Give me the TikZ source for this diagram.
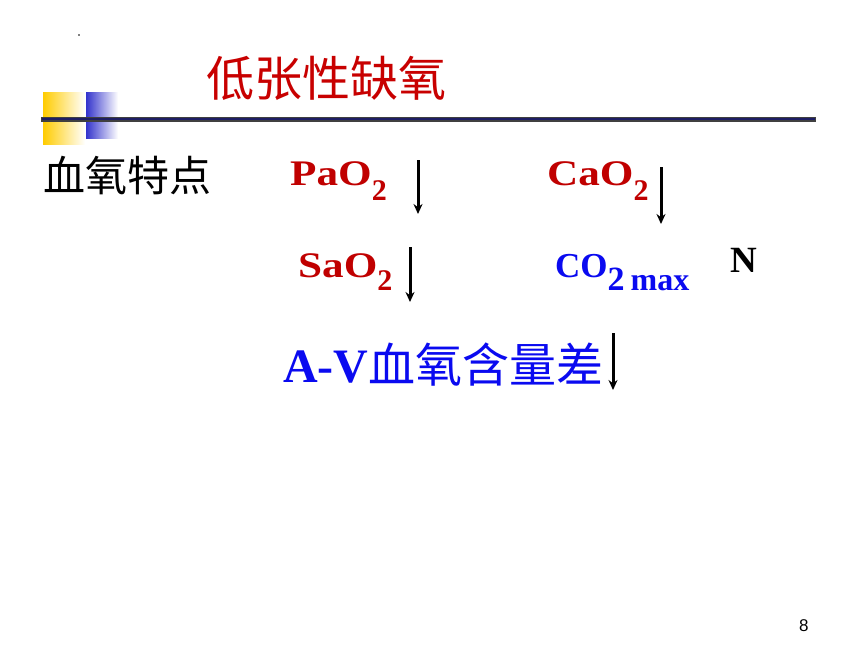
\documentclass[tikz,border=0pt]{standalone}
\usepackage{fontspec}
\setmainfont{Liberation Serif}
\newfontfamily\cjk{Noto Sans CJK SC}
\newfontfamily\widefont[FakeStretch=1.2]{Liberation Serif}
\newfontfamily\pagefont{Liberation Sans}
\usetikzlibrary{arrows.meta}
\definecolor{titlered}{RGB}{200,0,0}
\definecolor{gasred}{RGB}{192,0,0}
\definecolor{gasblue}{RGB}{10,10,240}
\definecolor{barnavy}{RGB}{30,30,100}
\definecolor{barblue}{RGB}{51,51,204}
\definecolor{bargold}{RGB}{255,204,0}
\begin{document}
\begin{tikzpicture}[x=1pt,y=-1pt,
txt/.style={inner sep=0pt,anchor=base west},
gas/.style={txt,text=gasred,font=\widefont\bfseries\fontsize{36}{36}\selectfont},
droparrow/.style={draw=black,line width=3pt,-{Stealth[length=10pt,width=9pt]}}]
\useasboundingbox[fill=white] (0,0) rectangle (860,645);
\fill[gray] (78,34) rectangle (80,36);
% title bar
\shade[left color=bargold,right color=white] (43,92) rectangle (85,144);
\shade[left color=barblue,right color=white] (86,92) rectangle (118,138);
\draw[line width=5pt,black!75] (41,119) -- (816,119);
\draw[line width=2pt,barnavy] (42,119) -- (815,119);
\draw (206,78) node[inner sep=0pt,anchor=west,text=titlered] (title) {\cjk\fontsize{48}{48}\selectfont 低张性缺氧};
\draw (43,176) node[inner sep=0pt,anchor=west] (feature) {\cjk\fontsize{42}{42}\selectfont 血氧特点};
% blood gas values
\draw (290,185) node[gas] (pao) {PaO\raisebox{-15pt}{\normalfont\bfseries\fontsize{30}{30}\selectfont 2}};
\draw (547,185) node[gas] (cao) {CaO\raisebox{-15pt}{\normalfont\bfseries\fontsize{30}{30}\selectfont 2}};
\draw (298,277) node[gas] (sao) {SaO\raisebox{-13pt}{\normalfont\bfseries\fontsize{30}{30}\selectfont 2}};
\draw (555,277) node[txt,text=gasblue,font=\bfseries\fontsize{35}{35}\selectfont] (co) {CO\raisebox{-13pt}{\fontsize{34}{34}\selectfont 2\hspace{6pt}\fontsize{32}{32}\selectfont max}};
\draw (730,272) node[txt,font=\bfseries\fontsize{37}{37}\selectfont] (normal) {N};
\draw (283,382) node[txt,text=gasblue] (avdiff) {\bfseries\fontsize{48}{48}\selectfont A-V\cjk\mdseries\fontsize{47}{47}\selectfont 血氧含量差};
\coordinate (pa top) at (418,160); \coordinate (pa end) at (418,214);
\coordinate (ca top) at (661,167); \coordinate (ca end) at (661,224);
\coordinate (sa top) at (410,247); \coordinate (sa end) at (410,302);
\coordinate (av top) at (613,333); \coordinate (av end) at (613,390);
\draw[droparrow] (pa top) -- (pa end);
\draw[droparrow] (ca top) -- (ca end);
\draw[droparrow] (sa top) -- (sa end);
\draw[droparrow] (av top) -- (av end);
\draw (799,631) node[txt,font=\pagefont\fontsize{17}{17}\selectfont] (page) {8};
\end{tikzpicture}
\end{document}
